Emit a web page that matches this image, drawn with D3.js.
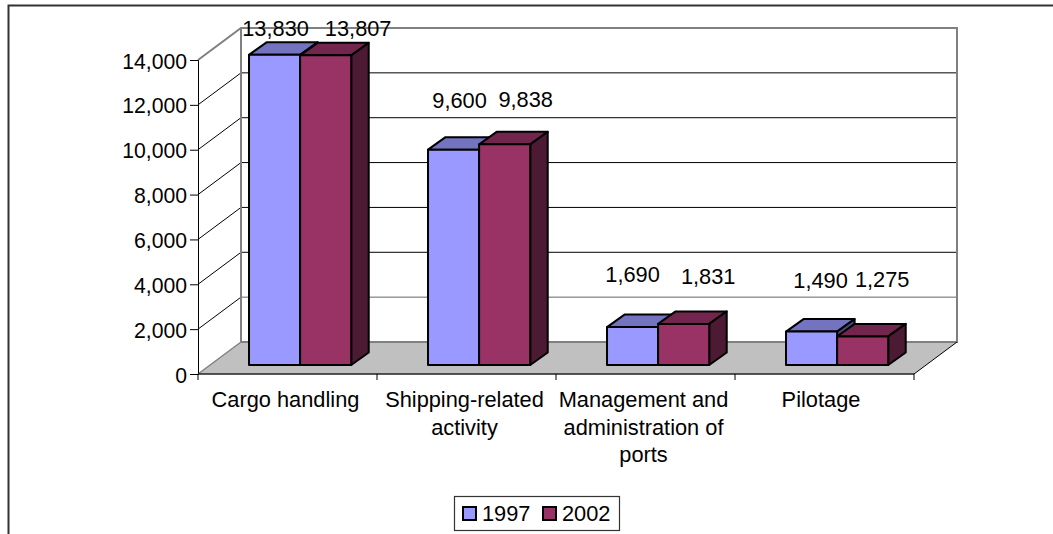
<!DOCTYPE html>
<html><head><meta charset="utf-8">
<style>html,body{margin:0;padding:0;background:#fff}svg{display:block}text{font-family:"Liberation Sans",Arial,sans-serif;font-size:21.8px;fill:#000}</style>
<script src="https://cdnjs.cloudflare.com/ajax/libs/d3/7.8.5/d3.min.js"></script>
</head><body><script>
const categories = [["Cargo handling"],["Shipping-related","activity"],["Management and","administration of","ports"],["Pilotage"]];
const seriesNames = ["1997","2002"];
const values1997 = [13830,9600,1690,1490];
const values2002 = [13807,9838,1831,1275];
const yTicks = [0,2000,4000,6000,8000,10000,12000,14000];

// layout (not data)
const W=1053,H=534;
const wallDX=43, wallDY=32, barDX=17.5, barDY=12.5, barLift=9;
const labelNudge = {
  "1997":[[1,-19],[6,-42],[0,-45],[9,-44]],
  "2002":[[32.5,-19],[21,-37],[24.5,-40],[19.5,-49]]
};
const fills = {
  "1997":{front:"#9999FF",top:"#7373BF",side:"#4D4D80"},
  "2002":{front:"#993366",top:"#73264D",side:"#4D1A33"}
};

const svg=d3.select("body").append("svg").attr("width",W).attr("height",H);
const x=d3.scaleBand().domain(d3.range(categories.length)).range([198,914]);
const y=d3.scaleLinear().domain([0,14000]).range([374,60]);
const sub=d3.scaleBand().domain(seriesNames).range([x.bandwidth()*0.285,x.bandwidth()*0.856]);
const line=(a,b,c,d,col,w)=>svg.append("line").attr("x1",a).attr("y1",b).attr("x2",c).attr("y2",d).attr("stroke",col).attr("stroke-width",w);
const poly=(pts,f,s,w)=>svg.append("polygon").attr("points",pts.map(p=>p.join(",")).join(" ")).attr("fill",f).attr("stroke",s||"none").attr("stroke-width",w||0).attr("stroke-linejoin","round");

// chart frame
svg.append("path").attr("d",`M8.5,${H} V5.5 H${W}`).attr("fill","none").attr("stroke","#333").attr("stroke-width",2);

const x0=x.range()[0], x1=x.range()[1], y0=y(0), yTop=y(14000);
// floor
poly([[x0,y0],[x0+wallDX,y0-wallDY],[x1+wallDX,y0-wallDY],[x1,y0]],"#C0C0C0");
// gridlines
yTicks.slice(1,-1).forEach(t=>{
  line(x0+wallDX,y(t)-wallDY,x1+wallDX,y(t)-wallDY,t===2000?"#666":"#000",1);
  line(x0,y(t),x0+wallDX,y(t)-wallDY,"#000",1);
});
// walls
svg.append("path").attr("d",`M${x0},${yTop} L${x0+wallDX},${yTop-wallDY} H${x1+wallDX} V${y0-wallDY} H${x0+wallDX} V${yTop-wallDY}`).attr("fill","none").attr("stroke","#808080").attr("stroke-width",2);
line(x0,y0,x0+wallDX,y0-wallDY,"#808080",1.5);
line(x1,y0,x1+wallDX,y0-wallDY,"#000",1);
// axes
const yAxis=d3.axisLeft(y).tickValues(yTicks).tickSize(8).tickPadding(3).tickFormat(d3.format(","));
const ga=svg.append("g").attr("transform",`translate(${x0},0)`).call(yAxis);
ga.selectAll("path,line").attr("stroke","#000");
ga.selectAll("text").style("font-size","21.2px").attr("dy","0.38em");
const xAxisTicks=d3.range(categories.length+1).map(i=>x0+i*x.bandwidth());
line(x0,y0,x1,y0,"#222",1.5);
xAxisTicks.forEach(t=>line(t,y0,t,y0+6,"#000",1));

// bars
const rows=[["1997",values1997],["2002",values2002]];
rows.forEach(([name,vals])=>{
  const c=fills[name];
  svg.append("g").selectAll("g").data(vals).join("g").each(function(v,i){
    const g=d3.select(this);
    const L=x(i)+sub(name), R=L+sub.bandwidth(), B=y0-barLift, T=y(v)-barLift;
    const P=(pts,f)=>g.append("polygon").attr("points",pts.map(p=>p.join(",")).join(" ")).attr("fill",f).attr("stroke","#000").attr("stroke-width",2).attr("stroke-linejoin","round");
    P([[L,T],[L+barDX,T-barDY],[R+barDX,T-barDY],[R,T]],c.top);
    P([[R,T],[R+barDX,T-barDY],[R+barDX,B-barDY],[R,B]],c.side);
    P([[L,T],[R,T],[R,B],[L,B]],c.front);
  });
});

// data labels
rows.forEach(([name,vals])=>{
  vals.forEach((v,i)=>{
    const L=x(i)+sub(name);
    const n=labelNudge[name][i];
    svg.append("text").attr("text-anchor","middle")
      .attr("x",L+sub.bandwidth()/2+n[0]).attr("y",y(v)-barLift+n[1])
      .text(d3.format(",")(v));
  });
});

// category labels
categories.forEach((lines,i)=>{
  lines.forEach((s,j)=>{
    svg.append("text").attr("text-anchor","middle")
      .attr("x",x(i)+x.bandwidth()/2-(i===3?3.5:2)).attr("y",407+j*27.5).text(s);
  });
});

// legend
const lg=svg.append("g");
lg.append("rect").attr("x",454.5).attr("y",496.5).attr("width",165).attr("height",34).attr("fill","#fff").attr("stroke","#333").attr("stroke-width",1.2);
const lgX=d3.scaleOrdinal().domain(seriesNames).range([463,543]);
seriesNames.forEach(n=>{
  lg.append("rect").attr("x",lgX(n)).attr("y",507).attr("width",13).attr("height",13).attr("fill",fills[n].front).attr("stroke","#000").attr("stroke-width",2);
  lg.append("text").attr("x",lgX(n)+19).attr("y",521).text(n);
});
</script></body></html>
